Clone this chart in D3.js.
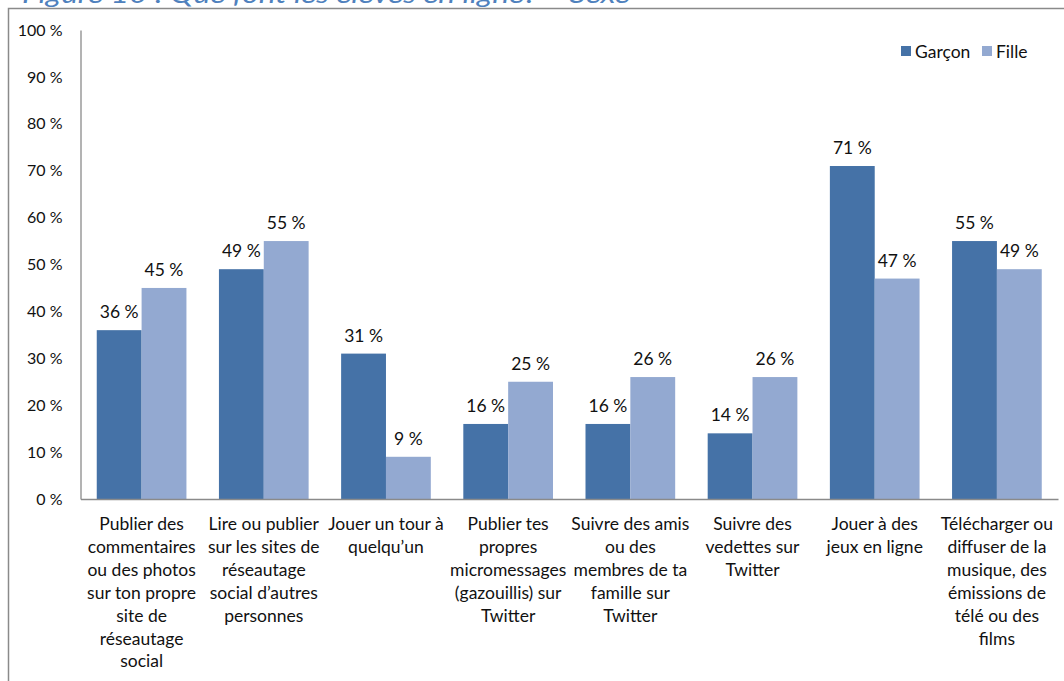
<!DOCTYPE html>
<html lang="fr">
<head>
<meta charset="utf-8">
<script src="https://cdn.jsdelivr.net/npm/d3@7"></script>
<style>
  html, body { margin: 0; padding: 0; background: #fff; }
  svg { display: block; font-family: Lato, "Open Sans", sans-serif; }
</style>
</head>
<body>
<svg id="chart" width="1064" height="681"></svg>
<script>
// Activities (each label split into its display lines)
const categories = [
  ["Publier des", "commentaires", "ou des photos", "sur ton propre", "site de", "réseautage", "social"],
  ["Lire ou publier", "sur les sites de", "réseautage", "social d’autres", "personnes"],
  ["Jouer un tour à", "quelqu’un"],
  ["Publier tes", "propres", "micromessages", "(gazouillis) sur", "Twitter"],
  ["Suivre des amis", "ou des", "membres de ta", "famille sur", "Twitter"],
  ["Suivre des", "vedettes sur", "Twitter"],
  ["Jouer à des", "jeux en ligne"],
  ["Télécharger ou", "diffuser de la", "musique, des", "émissions de", "télé ou des", "films"]
];
const seriesNames = ["Garçon", "Fille"];
const garcon = [36, 49, 31, 16, 16, 14, 71, 55];
const fille  = [45, 55, 9, 25, 26, 26, 47, 49];
const yTicks = [0, 10, 20, 30, 40, 50, 60, 70, 80, 90, 100];
const colors = ["#4572a7", "#93a9d1"];

const svg = d3.select("#chart");

// Figure title, clipped by the top of the page
svg.append("text")
  .attr("x", 22).attr("y", 3)
  .attr("fill", "#4f81bd")
  .attr("font-style", "italic")
  .attr("font-size", 25)
  .attr("textLength", 608)
  .attr("lengthAdjust", "spacingAndGlyphs")
  .text("Figure 10 : Que font les élèves en ligne? – Sexe");

// Outer chart frame
svg.append("path")
  .attr("d", "M8.5,700 V8.5 H1080")
  .attr("fill", "none")
  .attr("stroke", "#8a8a8a")
  .attr("stroke-width", 1.5);

const plot = { left: 80.5, right: 1058, top: 30, bottom: 499 };

const x0 = d3.scaleBand()
  .domain(d3.range(categories.length))
  .range([plot.left, plot.right])
  .paddingInner(0.266)
  .paddingOuter(0.133);
const x1 = d3.scaleBand()
  .domain(d3.range(seriesNames.length))
  .range([0, x0.bandwidth()]);
const y = d3.scaleLinear().domain([0, 100]).range([plot.bottom, plot.top]);

// Y axis
const yAxis = svg.append("g")
  .attr("transform", `translate(${plot.left},0)`)
  .call(d3.axisLeft(y).tickValues(yTicks).tickSize(0).tickPadding(18)
    .tickFormat(d => d + " %"));
yAxis.select(".domain").attr("stroke", "#8a8a8a").attr("stroke-width", 1.3);
yAxis.selectAll("text")
  .attr("font-family", "Lato, sans-serif")
  .attr("font-size", 16)
  .attr("fill", "#111");

// Bars
const data = categories.map((c, i) => [garcon[i], fille[i]]);
const groups = svg.append("g").selectAll("g")
  .data(data).join("g")
  .attr("transform", (d, i) => `translate(${x0(i)},0)`);

groups.selectAll("rect")
  .data(d => d.map((v, s) => ({ v, s })))
  .join("rect")
  .attr("x", d => x1(d.s))
  .attr("width", x1.bandwidth())
  .attr("y", d => y(d.v))
  .attr("height", d => y(0) - y(d.v))
  .attr("fill", d => colors[d.s]);

// Value labels
groups.selectAll("text.val")
  .data(d => d.map((v, s) => ({ v, s })))
  .join("text")
  .attr("class", "val")
  .attr("x", d => x1(d.s) + x1.bandwidth() / 2)
  .attr("y", d => y(d.v) - 12)
  .attr("text-anchor", "middle")
  .attr("font-size", 17.5)
  .attr("fill", "#111")
  .text(d => d.v + " %");

// X axis line
const xAxis = svg.append("g")
  .attr("transform", `translate(0,${plot.bottom})`)
  .call(d3.axisBottom(x0).tickSize(0).tickFormat(""));
xAxis.select(".domain").attr("stroke", "#8a8a8a").attr("stroke-width", 1.3);

// Category labels
const catLabels = svg.append("g").selectAll("text")
  .data(categories).join("text")
  .attr("text-anchor", "middle")
  .attr("font-size", 17.5)
  .attr("fill", "#111")
  .attr("transform", (d, i) => `translate(${x0(i) + x0.bandwidth() / 2},${plot.bottom + 31})`);
catLabels.selectAll("tspan")
  .data(d => d).join("tspan")
  .attr("x", 0)
  .attr("y", (d, i) => i * 22.9)
  .text(d => d);

// Legend
const legend = svg.append("g").attr("transform", "translate(901,46)");
const legendX = [0, 81];
seriesNames.forEach((name, i) => {
  legend.append("rect")
    .attr("x", legendX[i]).attr("y", 0)
    .attr("width", 10).attr("height", 10)
    .attr("fill", colors[i]);
  legend.append("text")
    .attr("x", legendX[i] + 14).attr("y", 12)
    .attr("font-size", 17.5)
    .attr("fill", "#111")
    .text(name);
});
</script>
</body>
</html>
